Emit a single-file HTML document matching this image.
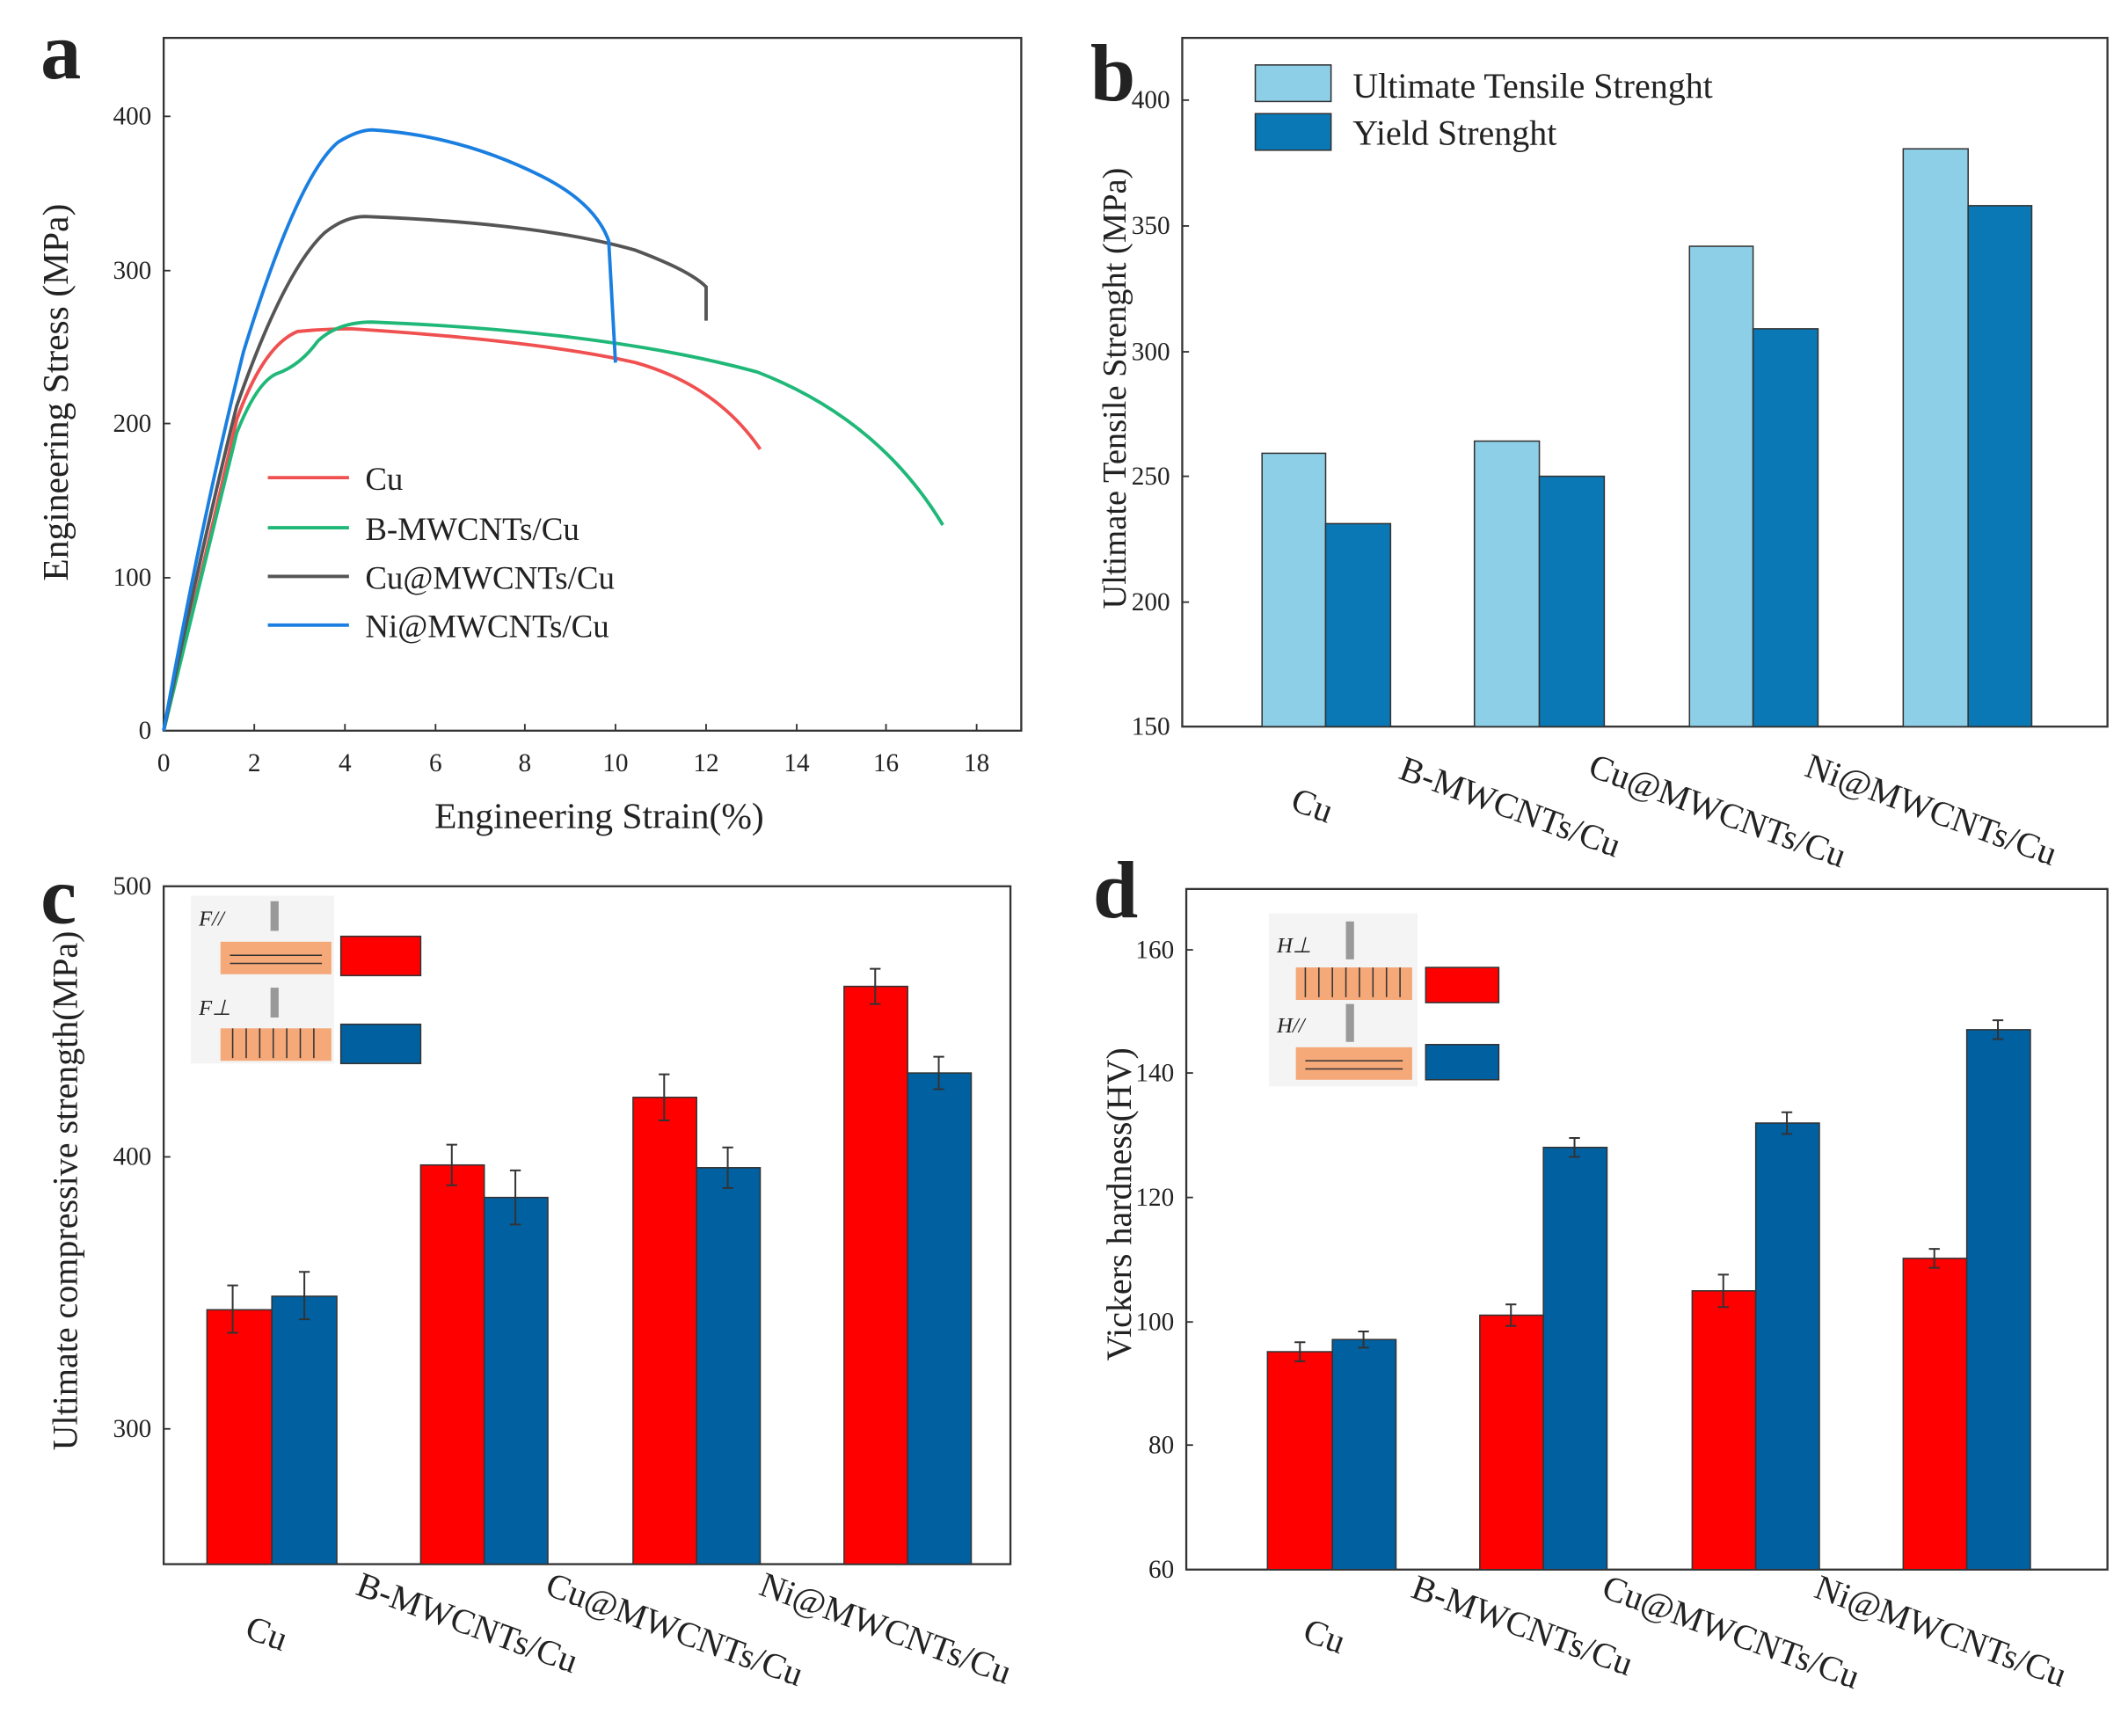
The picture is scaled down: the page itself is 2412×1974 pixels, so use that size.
<!DOCTYPE html>
<html><head><meta charset="utf-8"><style>
html,body{margin:0;padding:0;background:#fff;}
svg{display:block;}
text{font-family:"Liberation Serif",serif;fill:#222;}
</style></head><body>
<svg width="2412" height="1974" viewBox="0 0 1568 1283" preserveAspectRatio="none" xmlns="http://www.w3.org/2000/svg">
<rect width="1568" height="1283" fill="#fff"/>
<!-- Panel a -->
<text x="30" y="58" font-size="60" font-weight="bold">a</text>
<rect x="121" y="28" width="634" height="512" fill="none" stroke="#333" stroke-width="1.5"/>
<g font-size="19" text-anchor="middle" fill="#444">
<text x="121" y="570">0</text><text x="188" y="570">2</text><text x="255" y="570">4</text><text x="322" y="570">6</text><text x="388" y="570">8</text><text x="455" y="570">10</text><text x="522" y="570">12</text><text x="589" y="570">14</text><text x="655" y="570">16</text><text x="722" y="570">18</text>
</g>
<g stroke="#333" stroke-width="1.2">
<line x1="188" y1="540" x2="188" y2="535"/><line x1="255" y1="540" x2="255" y2="535"/><line x1="322" y1="540" x2="322" y2="535"/><line x1="388" y1="540" x2="388" y2="535"/><line x1="455" y1="540" x2="455" y2="535"/><line x1="522" y1="540" x2="522" y2="535"/><line x1="589" y1="540" x2="589" y2="535"/><line x1="655" y1="540" x2="655" y2="535"/><line x1="722" y1="540" x2="722" y2="535"/>
<line x1="121" y1="427" x2="126" y2="427"/><line x1="121" y1="313" x2="126" y2="313"/><line x1="121" y1="200" x2="126" y2="200"/><line x1="121" y1="86" x2="126" y2="86"/>
</g>
<g font-size="19" text-anchor="end" fill="#444">
<text x="112" y="546">0</text><text x="112" y="433">100</text><text x="112" y="319">200</text><text x="112" y="206">300</text><text x="112" y="92">400</text>
</g>
<text x="443" y="612" font-size="27" text-anchor="middle">Engineering Strain(%)</text>
<text transform="translate(50,290) rotate(-90)" font-size="27" text-anchor="middle">Engineering Stress (MPa)</text>
<path d="M121,540 Q150,420 175,310 Q195,255 220,245 Q240,243 260,243 Q400,252 470,268 Q530,285 562,332" fill="none" stroke="#f05050" stroke-width="2.5"/>
<path d="M121,540 Q150,420 175,320 Q190,282 205,276 Q222,270 235,252 Q250,238 275,238 Q450,245 560,275 Q650,310 697,388" fill="none" stroke="#20b878" stroke-width="2.5"/>
<path d="M121,540 Q150,400 175,300 Q210,200 240,172 Q255,160 270,160 Q400,165 470,185 Q510,200 522,212 L522,237" fill="none" stroke="#555" stroke-width="2.5"/>
<path d="M121,540 Q150,380 180,260 Q220,130 250,105 Q265,96 275,96 Q340,100 400,130 Q440,150 450,178 L455,268" fill="none" stroke="#1a7fe0" stroke-width="2.5"/>
<g font-size="24">
<line x1="198" y1="353" x2="258" y2="353" stroke="#f05050" stroke-width="2.5"/><text x="270" y="362">Cu</text>
<line x1="198" y1="390" x2="258" y2="390" stroke="#20b878" stroke-width="2.5"/><text x="270" y="399">B-MWCNTs/Cu</text>
<line x1="198" y1="426" x2="258" y2="426" stroke="#555" stroke-width="2.5"/><text x="270" y="435">Cu@MWCNTs/Cu</text>
<line x1="198" y1="462" x2="258" y2="462" stroke="#1a7fe0" stroke-width="2.5"/><text x="270" y="471">Ni@MWCNTs/Cu</text>
</g>
<!-- Panel b -->
<text x="806" y="74" font-size="60" font-weight="bold">b</text>
<rect x="874" y="28" width="684" height="509" fill="none" stroke="#333" stroke-width="1.5"/>
<g font-size="19" text-anchor="end" fill="#444">
<text x="865" y="543">150</text><text x="865" y="451">200</text><text x="865" y="358">250</text><text x="865" y="266">300</text><text x="865" y="173">350</text><text x="865" y="80">400</text>
</g>
<g stroke="#333" stroke-width="1.2">
<line x1="874" y1="445" x2="879" y2="445"/><line x1="874" y1="352" x2="879" y2="352"/><line x1="874" y1="260" x2="879" y2="260"/><line x1="874" y1="167" x2="879" y2="167"/><line x1="874" y1="74" x2="879" y2="74"/>
</g>
<text transform="translate(832,287) rotate(-90)" font-size="25" text-anchor="middle">Ultimate Tensile Strenght (MPa)</text>
<g stroke="#333" stroke-width="1">
<rect x="933" y="335" width="47" height="202" fill="#8ecfe8"/><rect x="980" y="387" width="48" height="150" fill="#0a78b4"/>
<rect x="1090" y="326" width="48" height="211" fill="#8ecfe8"/><rect x="1138" y="352" width="48" height="185" fill="#0a78b4"/>
<rect x="1249" y="182" width="47" height="355" fill="#8ecfe8"/><rect x="1296" y="243" width="48" height="294" fill="#0a78b4"/>
<rect x="1407" y="110" width="48" height="427" fill="#8ecfe8"/><rect x="1455" y="152" width="47" height="385" fill="#0a78b4"/>
<rect x="928" y="48" width="56" height="27" fill="#8ecfe8"/><rect x="928" y="84" width="56" height="27" fill="#0a78b4"/>
</g>
<text x="1000" y="72" font-size="26">Ultimate Tensile Strenght</text>
<text x="1000" y="107" font-size="26">Yield Strenght</text>
<g font-size="26">
<text transform="translate(953,598) rotate(20)">Cu</text>
<text transform="translate(1033,575) rotate(20)">B-MWCNTs/Cu</text>
<text transform="translate(1173,573) rotate(20)">Cu@MWCNTs/Cu</text>
<text transform="translate(1333,573) rotate(20)">Ni@MWCNTs/Cu</text>
</g>
<!-- Panel c -->
<text x="30" y="682" font-size="60" font-weight="bold">c</text>
<rect x="121" y="655" width="626" height="501" fill="none" stroke="#333" stroke-width="1.5"/>
<g font-size="19" text-anchor="end" fill="#444">
<text x="112" y="661">500</text><text x="112" y="861">400</text><text x="112" y="1062">300</text>
</g>
<g stroke="#333" stroke-width="1.2"><line x1="121" y1="855" x2="126" y2="855"/><line x1="121" y1="1056" x2="126" y2="1056"/></g>
<text transform="translate(57,880) rotate(-90)" font-size="26" text-anchor="middle">Ultimate compressive strength(MPa)</text>
<g stroke="#333" stroke-width="1">
<rect x="153" y="968" width="48" height="188" fill="#f00"/><rect x="201" y="958" width="48" height="198" fill="#0060a0"/>
<rect x="311" y="861" width="47" height="295" fill="#f00"/><rect x="358" y="885" width="47" height="271" fill="#0060a0"/>
<rect x="468" y="811" width="47" height="345" fill="#f00"/><rect x="515" y="863" width="47" height="293" fill="#0060a0"/>
<rect x="624" y="729" width="47" height="427" fill="#f00"/><rect x="671" y="793" width="47" height="363" fill="#0060a0"/>
</g>
<g stroke="#333" stroke-width="1.3" fill="none">
<path d="M172,950V985M168,950h8M168,985h8"/><path d="M225,940V975M221,940h8M221,975h8"/>
<path d="M334,846V876M330,846h8M330,876h8"/><path d="M381,865V905M377,865h8M377,905h8"/>
<path d="M491,794V828M487,794h8M487,828h8"/><path d="M538,848V878M534,848h8M534,878h8"/>
<path d="M647,716V742M643,716h8M643,742h8"/><path d="M694,781V805M690,781h8M690,805h8"/>
</g>
<rect x="141" y="662" width="106" height="124" fill="#f4f4f4"/>
<rect x="163" y="696" width="82" height="24" fill="#f5a878"/><rect x="163" y="760" width="82" height="24" fill="#f5a878"/>
<path d="M170,706h68M170,712h68M172,760v22M182,760v22M192,760v22M202,760v22M212,760v22M222,760v22M232,760v22" stroke="#333" stroke-width="1"/>
<path d="M203,666v22M203,730v22" stroke="#999" stroke-width="6"/>
<text x="147" y="684" font-size="16" font-style="italic">F//</text><text x="147" y="750" font-size="16" font-style="italic">F⊥</text>
<rect x="252" y="692" width="59" height="29" fill="#f00" stroke="#333"/><rect x="252" y="757" width="59" height="29" fill="#0060a0" stroke="#333"/>
<g font-size="26">
<text transform="translate(180,1210) rotate(20)">Cu</text>
<text transform="translate(262,1178) rotate(20)">B-MWCNTs/Cu</text>
<text transform="translate(402,1178) rotate(20)">Cu@MWCNTs/Cu</text>
<text transform="translate(560,1178) rotate(20)">Ni@MWCNTs/Cu</text>
</g>
<!-- Panel d -->
<text x="808" y="678" font-size="60" font-weight="bold">d</text>
<rect x="877" y="657" width="681" height="503" fill="none" stroke="#333" stroke-width="1.5"/>
<g font-size="19" text-anchor="end" fill="#444">
<text x="868" y="1166">60</text><text x="868" y="1074">80</text><text x="868" y="983">100</text><text x="868" y="891">120</text><text x="868" y="799">140</text><text x="868" y="708">160</text>
</g>
<g stroke="#333" stroke-width="1.2"><line x1="877" y1="1068" x2="882" y2="1068"/><line x1="877" y1="977" x2="882" y2="977"/><line x1="877" y1="885" x2="882" y2="885"/><line x1="877" y1="793" x2="882" y2="793"/><line x1="877" y1="702" x2="882" y2="702"/></g>
<text transform="translate(836,890) rotate(-90)" font-size="26" text-anchor="middle">Vickers hardness(HV)</text>
<g stroke="#333" stroke-width="1">
<rect x="937" y="999" width="48" height="161" fill="#f00"/><rect x="985" y="990" width="47" height="170" fill="#0060a0"/>
<rect x="1094" y="972" width="47" height="188" fill="#f00"/><rect x="1141" y="848" width="47" height="312" fill="#0060a0"/>
<rect x="1251" y="954" width="47" height="206" fill="#f00"/><rect x="1298" y="830" width="47" height="330" fill="#0060a0"/>
<rect x="1407" y="930" width="47" height="230" fill="#f00"/><rect x="1454" y="761" width="47" height="399" fill="#0060a0"/>
</g>
<g stroke="#333" stroke-width="1.3" fill="none">
<path d="M961,992V1006M957,992h8M957,1006h8"/><path d="M1008,984V996M1004,984h8M1004,996h8"/>
<path d="M1117,964V980M1113,964h8M1113,980h8"/><path d="M1164,841V855M1160,841h8M1160,855h8"/>
<path d="M1274,942V966M1270,942h8M1270,966h8"/><path d="M1321,822V838M1317,822h8M1317,838h8"/>
<path d="M1430,923V937M1426,923h8M1426,937h8"/><path d="M1477,754V768M1473,754h8M1473,768h8"/>
</g>
<rect x="938" y="675" width="110" height="128" fill="#f4f4f4"/>
<rect x="958" y="715" width="86" height="24" fill="#f5a878"/><rect x="958" y="774" width="86" height="24" fill="#f5a878"/>
<path d="M965,715v22M975,715v22M985,715v22M995,715v22M1005,715v22M1015,715v22M1025,715v22M1035,715v22M965,784h72M965,790h72" stroke="#333" stroke-width="1"/>
<path d="M998,681v28M998,742v28" stroke="#999" stroke-width="6"/>
<text x="944" y="704" font-size="16" font-style="italic">H⊥</text><text x="944" y="763" font-size="16" font-style="italic">H//</text>
<rect x="1054" y="715" width="54" height="26" fill="#f00" stroke="#333"/><rect x="1054" y="772" width="54" height="26" fill="#0060a0" stroke="#333"/>
<g font-size="26">
<text transform="translate(962,1212) rotate(20)">Cu</text>
<text transform="translate(1042,1180) rotate(20)">B-MWCNTs/Cu</text>
<text transform="translate(1183,1180) rotate(20)">Cu@MWCNTs/Cu</text>
<text transform="translate(1340,1180) rotate(20)">Ni@MWCNTs/Cu</text>
</g>
</svg>
</body></html>
